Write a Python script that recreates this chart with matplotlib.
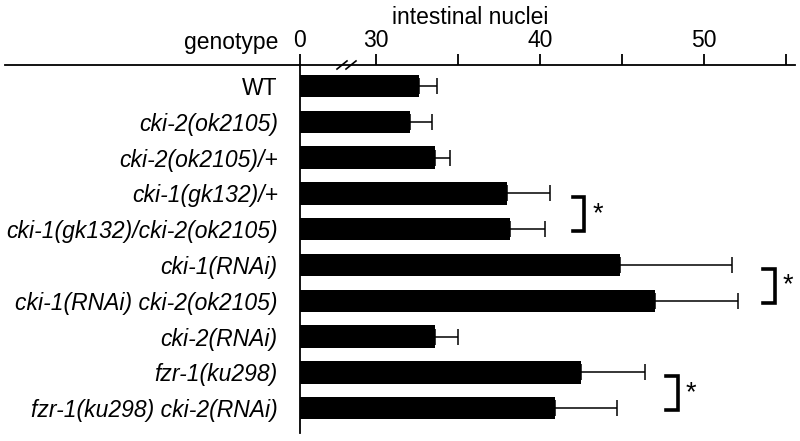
import numpy as np
import matplotlib.pyplot as plt

plt.rcParams['font.family'] = ['Liberation Sans', 'DejaVu Sans']

# %% data
genotypes = ["WT", "cki-2(ok2105)", "cki-2(ok2105)/+", "cki-1(gk132)/+",
             "cki-1(gk132)/cki-2(ok2105)", "cki-1(RNAi)",
             "cki-1(RNAi) cki-2(ok2105)", "cki-2(RNAi)", "fzr-1(ku298)",
             "fzr-1(ku298) cki-2(RNAi)"]
nuclei = [32.6, 32.1, 33.6, 38.0, 38.2, 44.9, 47.0, 33.6, 42.5, 40.9]
err = [1.1, 1.3, 0.9, 2.6, 2.1, 6.8, 5.1, 1.4, 3.9, 3.8]
italic = [False] + [True] * 9
# pairs of rows with a significance bracket
brackets = [(3, 4, 42.0), (5, 6, 53.6), (8, 9, 47.7)]

# %% broken axis scale: 0..30 squeezed into a short stretch
squeeze = (376 - 300) / 16.4


def fwd(v):
    v = np.asarray(v, dtype=float)
    return np.where(v < 30, v * squeeze / 30, squeeze + v - 30)


def inv(u):
    u = np.asarray(u, dtype=float)
    return np.where(u < squeeze, u * 30 / squeeze, u - squeeze + 30)


fs = 16.5
fig = plt.figure(figsize=(8, 4.41), dpi=100)
W, H = 800, 441
ax = fig.add_axes([5 / W, 1 - 433 / H, 790 / W, (433 - 65) / H])
ax.set_xscale('function', functions=(fwd, inv))
ax.set_xlim(inv((5 - 300) / 16.4), inv((795 - 300) / 16.4))
ax.set_ylim((433 - 86) / 35.8, -(86 - 65) / 35.8)

y = np.arange(len(genotypes))
ax.barh(y, nuclei, height=0.63, left=0, color='black')
ax.errorbar(nuclei, y, xerr=[np.zeros(len(err)), err], fmt='none',
            ecolor='black', elinewidth=1.1, capsize=5.5, capthick=1.1)

# axes styling
for side in ['right', 'bottom']:
    ax.spines[side].set_visible(False)
ax.spines['left'].set_position(('data', 0))
ax.spines['top'].set_linewidth(1.3)
ax.spines['left'].set_linewidth(1.3)
ax.xaxis.tick_top()
ax.set_xticks([0, 30, 35, 40, 45, 50, 55])
ax.set_xticklabels(['0', '30', '', '40', '', '50', ''])
ax.tick_params(axis='x', direction='out', length=8, width=1.3,
               labelsize=fs, pad=1.5)
ax.set_yticks(y)
ax.set_yticklabels(genotypes)
ax.tick_params(axis='y', length=0, labelsize=fs, pad=16)
for lab, it in zip(ax.get_yticklabels(), italic):
    lab.set_style('italic' if it else 'normal')

# break marks on the axis
for px in [342, 351]:
    ax.plot([(px - 5 - 5) / 790, (px + 5 - 5) / 790], [0.989, 1.011],
            transform=ax.transAxes, color='black', lw=1.2, clip_on=False)

# significance brackets
for top, bot, xb in brackets:
    y0, y1 = top + 0.1, bot + 0.05
    ax.plot([xb, xb + 0.7, xb + 0.7, xb], [y0, y0, y1, y1], color='black',
            lw=2.6, solid_joinstyle='miter', clip_on=False)
    ax.text(xb + 1.2, (y0 + y1) / 2, '*', fontsize=fs + 3, ha='left',
            va='center', clip_on=False)

fig.text(278 / W, 1 - 42 / H, 'genotype', ha='right', va='center',
         fontsize=fs)
fig.text(470 / W, 1 - 18 / H, 'intestinal nuclei', ha='center',
         va='center', fontsize=fs)

fig.savefig('out.png', dpi=100)
